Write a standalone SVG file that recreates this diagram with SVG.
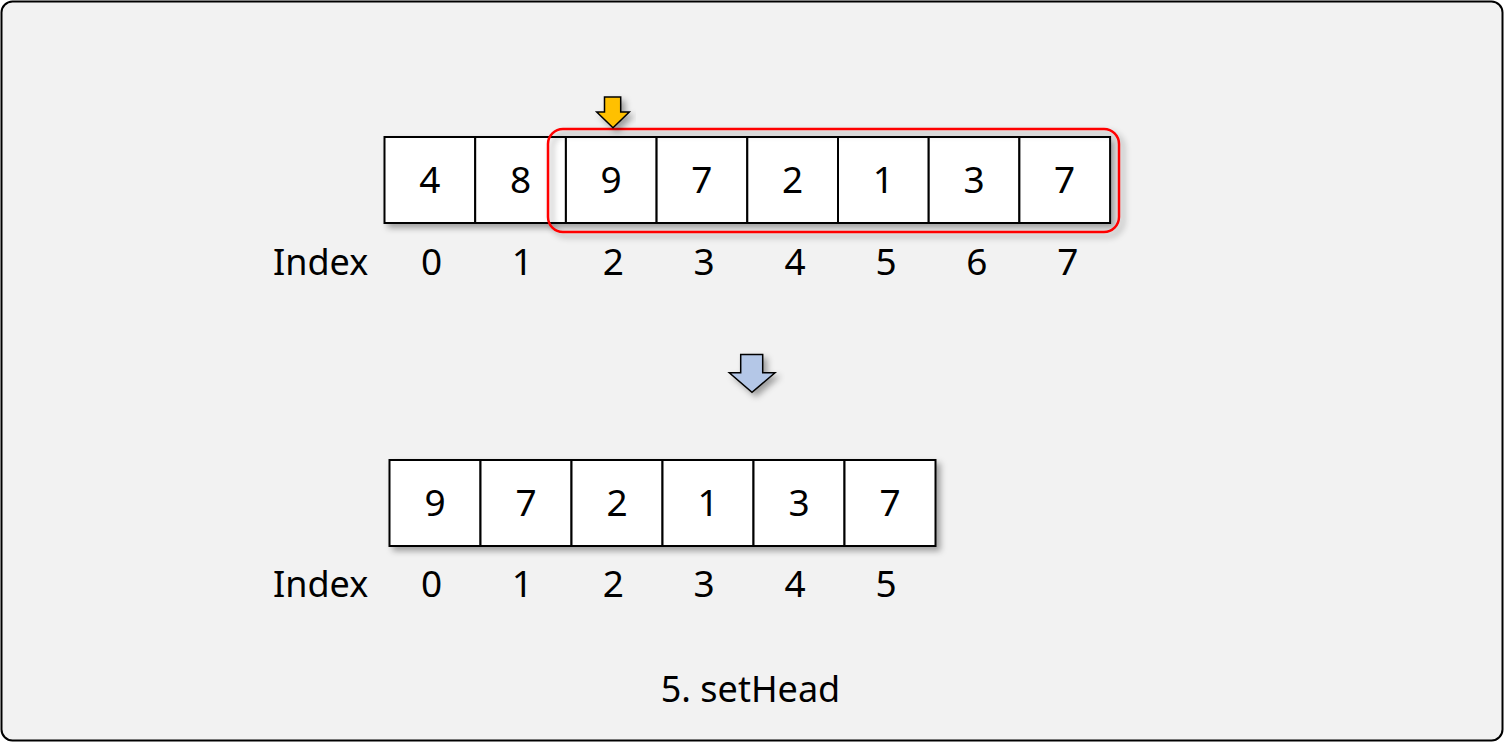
<svg xmlns="http://www.w3.org/2000/svg" width="1504" height="742" viewBox="0 0 1504 742">
<style>
.cell{fill:#ffffff;stroke:#000000;stroke-width:2}
.t{font-family:"Noto Sans","Liberation Sans",sans-serif;font-size:37px;fill:#000000;text-anchor:middle}
.lbl{font-family:"Noto Sans","Liberation Sans",sans-serif;font-size:36px;fill:#000000}
</style>
<defs>
<filter id="sh" x="-20%" y="-20%" width="140%" height="160%">
<feDropShadow dx="4" dy="4" stdDeviation="3" flood-color="#000" flood-opacity="0.35"/>
</filter>
</defs>
<rect x="1.5" y="1.5" width="1501" height="739" rx="11" ry="11" fill="#f2f2f2" stroke="#000" stroke-width="2"/>

<g id="top-array" filter="url(#sh)">
<rect class="cell" x="384.5" y="137" width="90.7" height="86"/>
<rect class="cell" x="475.2" y="137" width="90.7" height="86"/>
<rect class="cell" x="565.9" y="137" width="90.7" height="86"/>
<rect class="cell" x="656.6" y="137" width="90.7" height="86"/>
<rect class="cell" x="747.3" y="137" width="90.7" height="86"/>
<rect class="cell" x="838" y="137" width="90.7" height="86"/>
<rect class="cell" x="928.7" y="137" width="90.7" height="86"/>
<rect class="cell" x="1019.4" y="137" width="90.7" height="86"/>
</g>
<g id="top-values">
<text class="t" x="429.8" y="193">4</text>
<text class="t" x="520.5" y="193">8</text>
<text class="t" x="611.2" y="193">9</text>
<text class="t" x="701.9" y="193">7</text>
<text class="t" x="792.6" y="193">2</text>
<text class="t" x="883.3" y="193">1</text>
<text class="t" x="974" y="193">3</text>
<text class="t" x="1064.7" y="193">7</text>
</g>
<g id="highlight" filter="url(#sh)">
<rect x="548" y="129" width="571" height="103" rx="15" ry="15" fill="none" stroke="#ff0000" stroke-width="2.5"/>
</g>
<g id="head-pointer" filter="url(#sh)">
<polygon points="604.5,97 620.7,97 620.7,112 629.3,112 613,127.7 596.7,112 604.5,112" fill="#ffc000" stroke="#000" stroke-width="1.5"/>
</g>
<g id="top-index">
<text class="lbl" x="273" y="274.5">Index</text>
<text class="t" x="431.5" y="274.5">0</text>
<text class="t" x="522.4" y="274.5">1</text>
<text class="t" x="613.3" y="274.5">2</text>
<text class="t" x="704.2" y="274.5">3</text>
<text class="t" x="795.1" y="274.5">4</text>
<text class="t" x="886" y="274.5">5</text>
<text class="t" x="976.9" y="274.5">6</text>
<text class="t" x="1067.8" y="274.5">7</text>
</g>

<g id="connectors">
<g id="transform-arrow" filter="url(#sh)">
<polygon points="740.7,354.5 762.7,354.5 762.7,372.7 775,372.7 752,392.3 729.3,372.7 740.7,372.7" fill="#b4c7e7" stroke="#000" stroke-width="1.5"/>
</g>
</g>

<g id="bottom-array" filter="url(#sh)">
<rect class="cell" x="389.5" y="460" width="91" height="86"/>
<rect class="cell" x="480.5" y="460" width="91" height="86"/>
<rect class="cell" x="571.5" y="460" width="91" height="86"/>
<rect class="cell" x="662.5" y="460" width="91" height="86"/>
<rect class="cell" x="753.5" y="460" width="91" height="86"/>
<rect class="cell" x="844.5" y="460" width="91" height="86"/>
</g>
<g id="bottom-values">
<text class="t" x="435" y="515.5">9</text>
<text class="t" x="526" y="515.5">7</text>
<text class="t" x="617" y="515.5">2</text>
<text class="t" x="708" y="515.5">1</text>
<text class="t" x="799" y="515.5">3</text>
<text class="t" x="890" y="515.5">7</text>
</g>
<g id="bottom-index">
<text class="lbl" x="273" y="596.5">Index</text>
<text class="t" x="431.5" y="596.5">0</text>
<text class="t" x="522.4" y="596.5">1</text>
<text class="t" x="613.3" y="596.5">2</text>
<text class="t" x="704.2" y="596.5">3</text>
<text class="t" x="795.1" y="596.5">4</text>
<text class="t" x="886" y="596.5">5</text>
</g>
<g id="caption">
<text class="lbl" x="750.5" y="701.5" text-anchor="middle">5. setHead</text>
</g>
</svg>
